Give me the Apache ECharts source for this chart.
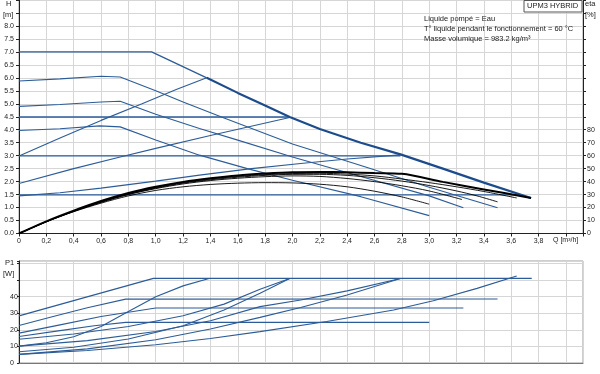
<!DOCTYPE html>
<html><head><meta charset="utf-8">
<script src="https://cdn.jsdelivr.net/npm/echarts/dist/echarts.min.js"></script>
<style>html,body{margin:0;padding:0;background:#fff}#c{width:600px;height:374px}</style>
</head><body><div id="c"></div>
<script>
// ---- Tick labels ----
const qTickLabels = ['0','0,2','0,4','0,6','0,8','1,0','1,2','1,4','1,6','1,8','2,0','2,2','2,4','2,6','2,8','3,0','3,2','3,4','3,6','3,8'];
const hTickLabels = ['0.0','0.5','1.0','1.5','2.0','2.5','3.0','3.5','4.0','4.5','5.0','5.5','6.0','6.5','7.0','7.5','8.0'];
const etaTickLabels = ['0','10','20','30','40','50','60','70','80'];
const pTickLabels = ['0','10','20','30','40'];

// ---- Q-H curves [Q m³/h, H m] ----
const qhMaxFlat  = [[0,7.0],[0.97,7.0],[1.373,6.0]];
const qhMaxLimit = [[1.373,6.0],[1.6,5.42],[1.8,4.93],[1.98,4.49],[2.2,4.03],[2.5,3.5],[2.79,3.05],[3.1,2.5],[3.4,1.96],[3.745,1.37]];
const qhCC3 = [[0,5.88],[0.3,5.96],[0.6,6.06],[0.74,6.03],[1.0,5.5],[1.2,5.07],[1.5,4.45],[2.0,3.45],[2.5,2.62],[3.0,1.78],[3.5,0.99]];
const qhCC2 = [[0,4.9],[0.3,4.97],[0.6,5.07],[0.74,5.1],[1.0,4.6],[1.32,4.05],[1.6,3.6],[2.0,2.95],[2.5,2.2],[3.0,1.45],[3.25,0.99]];
const qhCC1 = [[0,3.97],[0.3,4.04],[0.59,4.15],[0.74,4.11],[1.0,3.6],[1.32,3.02],[1.67,2.5],[2.0,2.05],[2.5,1.42],[3.0,0.69]];
const qhPP3 = [[0,2.99],[0.3,3.68],[0.6,4.36],[0.9,5.0],[1.15,5.55],[1.373,6.0]];
const qhPP2 = [[0,1.93],[0.4,2.5],[0.74,2.95],[1.0,3.28],[1.4,3.78],[1.98,4.47]];
const qhPP1 = [[0,1.45],[0.3,1.57],[0.6,1.75],[1.0,2.02],[1.32,2.25],[1.7,2.5],[2.06,2.7],[2.4,2.87],[2.79,3.03]];
const qhCP45 = [[0,4.49],[1.98,4.49]];
const qhCP30 = [[0,2.99],[2.79,2.99]];
const qhCP15 = [[0,1.49],[3.67,1.49]];

// ---- Efficiency curves [Q m³/h, eta %] ----
const etaMax = [[0,0],[0.2,9.4],[0.4,17.6],[0.6,25],[0.8,31.2],[1.0,36],[1.2,39.8],[1.4,42.6],[1.6,44.8],[1.8,46.2],[2.0,47.2],[2.2,47.4],[2.4,47.2],[2.6,46.6],[2.8,46],[3.1,39.8],[3.4,34],[3.745,27.4]];
const eta4 = [[0,0],[0.2,9.2],[0.4,17.2],[0.6,24.4],[0.8,30.6],[1.0,35.4],[1.2,39.2],[1.4,42],[1.6,44],[1.8,45.4],[2.0,46.2],[2.2,46.4],[2.4,45.8],[2.6,44.4],[2.8,42],[3.0,39.2],[3.2,36],[3.4,32.4],[3.64,27.4]];
const eta3 = [[0,0],[0.2,9.2],[0.4,17.2],[0.6,24.2],[0.8,30.2],[1.0,35],[1.2,38.8],[1.4,41.4],[1.6,43.4],[1.8,44.8],[2.0,45.6],[2.2,45.6],[2.4,44.8],[2.6,43],[2.8,40.4],[3.0,37],[3.2,32.8],[3.35,29],[3.5,24.4]];
const eta2 = [[0,0],[0.2,9],[0.4,17],[0.6,24],[0.8,30],[1.0,34.6],[1.2,38.2],[1.4,40.8],[1.6,42.6],[1.8,43.8],[2.0,44.4],[2.2,44],[2.4,42.4],[2.6,40],[2.8,36.8],[3.0,32.8],[3.24,26.2]];
const eta1 = [[0,0],[0.2,9],[0.4,16.8],[0.6,23.4],[0.8,29],[1.0,33.2],[1.2,36],[1.4,37.8],[1.6,38.8],[1.8,39.2],[2.0,39],[2.2,38],[2.4,36],[2.6,32.6],[2.8,28.2],[3.0,22.6]];

// ---- Power curves [Q m³/h, P1 W] ----
const pMax  = [[0,28.4],[0.983,51],[3.75,51]];
const pCC3  = [[0,22.6],[0.25,28],[0.5,33.3],[0.78,38.5],[3.5,38.6]];
const pCC2  = [[0,18],[0.3,23],[0.6,28],[1.0,33.2],[3.25,33.2]];
const pCC1  = [[0,16],[0.3,19.5],[0.55,22.5],[0.78,24.5],[3.0,24.5]];
const pCP45 = [[0,14.3],[0.4,17.5],[0.8,22],[1.2,28.5],[1.5,35.5],[1.763,44.5],[1.98,51]];
const pPP3  = [[0,10.2],[0.2,12.2],[0.4,15.8],[0.6,22],[0.8,31],[1.0,40],[1.2,46.5],[1.39,51]];
const pCP30 = [[0,10.2],[0.5,13.5],[1.0,19],[1.4,25.5],[1.763,34],[2.06,38],[2.4,43.5],[2.79,51]];
const pPP2  = [[0,6.8],[0.4,9.5],[0.8,14.5],[1.2,22.5],[1.5,32],[1.763,42],[1.98,51]];
const pPP1  = [[0,5.2],[0.5,8.5],[1.0,14],[1.4,20.5],[1.763,27.5],[2.06,33.5],[2.4,41],[2.79,51]];
const pCP15 = [[0,5.2],[0.5,7.5],[1.0,11],[1.4,14.8],[1.763,18.9],[2.25,25],[2.74,32],[3.03,37.5],[3.35,45],[3.64,52.4]];

const BLUE = '#2c5c98', BLUE_D = '#1c4c8c', FONT = 'Arial, "Liberation Sans", sans-serif';

function lbl(arr, step) {
  return function (v) { const i = Math.round(v / step); return (Math.abs(v - i * step) < 1e-6 && arr[i] !== undefined) ? arr[i] : ''; };
}
function blue(data, x, y, w, c) {
  return { type: 'line', xAxisIndex: x, yAxisIndex: y, data: data, showSymbol: false, symbol: 'none',
    lineStyle: { color: c || BLUE, width: w || 1.1 }, silent: true, z: 3 };
}
function black(data, w) {
  return { type: 'line', xAxisIndex: 0, yAxisIndex: 1, data: data, showSymbol: false, symbol: 'none', smooth: 0.3,
    lineStyle: { color: '#000', width: w || 0.9 }, silent: true, z: 4 };
}
const gridLine = { show: true, lineStyle: { color: '#d6d6d6', width: 1 } };

const chart = echarts.init(document.getElementById('c'), null, { renderer: 'canvas' });
chart.setOption({
  animation: false,
  backgroundColor: '#fff',
  textStyle: { fontFamily: FONT },
  grid: [
    { left: 19, top: 0, width: 564, height: 233.5, show: true, borderColor: '#9c9c9c', borderWidth: 1 },
    { left: 19, top: 261, width: 564, height: 102, show: true, borderColor: '#9c9c9c', borderWidth: 1 }
  ],
  xAxis: [
    { type: 'value', gridIndex: 0, min: 0, max: 4.125, interval: 0.2,
      axisLine: { show: true, onZero: false, lineStyle: { color: '#222' } },
      axisTick: { show: true, length: 3, lineStyle: { color: '#222' } },
      axisLabel: { fontSize: 7, color: '#222', margin: 4, formatter: lbl(qTickLabels, 0.2), fontFamily: FONT },
      splitLine: gridLine },
    { type: 'value', gridIndex: 1, min: 0, max: 4.125, interval: 0.2,
      axisLine: { show: true, onZero: false, lineStyle: { color: '#777' } },
      axisTick: { show: false }, axisLabel: { show: false }, splitLine: gridLine }
  ],
  yAxis: [
    { type: 'value', gridIndex: 0, min: 0, max: 9, interval: 0.5,
      axisLine: { show: true, onZero: false, lineStyle: { color: '#222' } },
      axisTick: { show: true, length: 3, lineStyle: { color: '#222' } },
      axisLabel: { fontSize: 7, color: '#222', margin: 5, formatter: lbl(hTickLabels, 0.5), fontFamily: FONT },
      splitLine: gridLine },
    { type: 'value', gridIndex: 0, position: 'right', min: 0, max: 180, interval: 10,
      axisLine: { show: true, onZero: false, lineStyle: { color: '#222' } },
      axisTick: { show: true, length: 3, lineStyle: { color: '#222' } },
      axisLabel: { fontSize: 7, color: '#222', margin: 4, formatter: lbl(etaTickLabels, 10), fontFamily: FONT },
      splitLine: { show: false } },
    { type: 'value', gridIndex: 1, min: 0, max: 61.5, interval: 10,
      axisLine: { show: true, onZero: false, lineStyle: { color: '#222' } },
      axisTick: { show: true, length: 2, lineStyle: { color: '#222' } },
      axisLabel: { fontSize: 7, color: '#222', margin: 9, align: 'left', formatter: lbl(pTickLabels, 10), fontFamily: FONT },
      splitLine: gridLine }
  ],
  graphic: [
    { type: 'text', left: 6, top: 0, style: { text: 'H', font: '7.5px ' + FONT, fill: '#222' } },
    { type: 'text', left: 3, top: 11, style: { text: '[m]', font: '7.5px ' + FONT, fill: '#222' } },
    { type: 'text', left: 585, top: 0, style: { text: 'eta', font: '7.5px ' + FONT, fill: '#222' } },
    { type: 'text', left: 585, top: 11, style: { text: '[%]', font: '7.5px ' + FONT, fill: '#222' } },
    { type: 'text', left: 553, top: 237, style: { text: 'Q [m³/h]', font: '7px ' + FONT, fill: '#222' } },
    { type: 'text', left: 5, top: 259, style: { text: 'P1', font: '7.5px ' + FONT, fill: '#222' } },
    { type: 'text', left: 3, top: 270, style: { text: '[W]', font: '7.5px ' + FONT, fill: '#222' } },
    { type: 'rect', shape: { x: 524, y: 0.5, width: 58, height: 11.5 }, style: { fill: '#fff', stroke: '#555', lineWidth: 1 }, z: 10 },
    { type: 'text', left: 527, top: 2, z: 11, style: { text: 'UPM3 HYBRID', font: '7.5px ' + FONT, fill: '#222' } },
    { type: 'text', left: 424, top: 14, z: 11, style: { text: 'Liquide pompé = Eau\nT° liquide pendant le fonctionnement = 60 °C\nMasse volumique = 983.2 kg/m³', font: '7.5px ' + FONT, fill: '#222', lineHeight: 10 } }
  ],
  series: [
    blue(qhCP45, 0, 0, 1.3), blue(qhCP30, 0, 0, 1.3), blue(qhCP15, 0, 0, 1.3),
    blue(qhCC3, 0, 0), blue(qhCC2, 0, 0), blue(qhCC1, 0, 0),
    blue(qhPP3, 0, 0), blue(qhPP2, 0, 0), blue(qhPP1, 0, 0),
    blue(qhMaxFlat, 0, 0, 1.3), blue(qhMaxLimit, 0, 0, 2.2, BLUE_D),
    black(eta1), black(eta2), black(eta3), black(eta4), black(etaMax, 2),
    blue(pMax, 1, 2, 1.3), blue(pCC3, 1, 2), blue(pCC2, 1, 2), blue(pCC1, 1, 2),
    blue(pCP45, 1, 2), blue(pPP3, 1, 2), blue(pCP30, 1, 2), blue(pPP2, 1, 2), blue(pPP1, 1, 2), blue(pCP15, 1, 2)
  ]
});
</script></body></html>
